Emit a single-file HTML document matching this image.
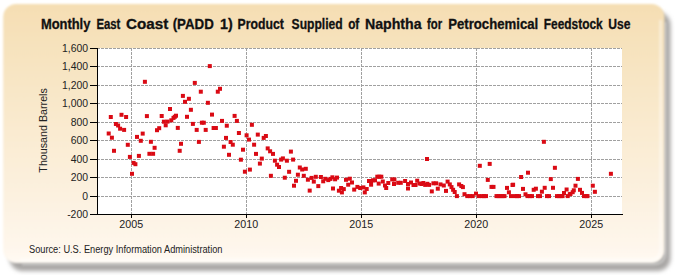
<!DOCTYPE html>
<html><head><meta charset="utf-8">
<style>
html,body{margin:0;padding:0;background:#fff;width:675px;height:275px;overflow:hidden}
svg{display:block}
text{font-family:"Liberation Sans",sans-serif}
</style></head><body>
<svg width="675" height="275" viewBox="0 0 675 275">
<defs>
<linearGradient id="bg" x1="0" y1="0" x2="0" y2="1">
<stop offset="0" stop-color="#F5DEB3"/>
<stop offset="0.93" stop-color="#FEF6EB"/>
<stop offset="1" stop-color="#FFFAF4"/>
</linearGradient>
<filter id="sh" x="-5%" y="-5%" width="115%" height="120%">
<feGaussianBlur stdDeviation="2.2"/>
</filter>
<filter id="pb" x="-2%" y="-2%" width="104%" height="104%"><feGaussianBlur stdDeviation="0.8"/></filter>
</defs>
<rect x="0" y="0" width="675" height="275" fill="#ffffff"/>
<rect x="9.5" y="12" width="661" height="259" rx="13" ry="13" fill="#a8a6a4" filter="url(#sh)"/>
<rect x="3.2" y="4" width="661.3" height="259" rx="13" ry="13" fill="url(#bg)" filter="url(#pb)"/>
<path d="M 660.5 20 L 660.5 249 Q 660.5 259.8 650 259.8 L 20 259.8" fill="none" stroke="#ffffff" stroke-opacity="0.45" stroke-width="2.5" filter="url(#pb)"/>
<path d="M 665.5 22 L 665.5 252 Q 665.5 264.5 652 264.5 L 22 264.5" fill="none" stroke="#ffffff" stroke-opacity="0.35" stroke-width="2" filter="url(#pb)"/>
<rect x="98" y="48" width="524" height="166" fill="#ffffff"/>

<line x1="97" y1="196.5" x2="622" y2="196.5" stroke="#a0a0a0" stroke-width="1" stroke-dasharray="3,1"/>
<line x1="97" y1="177.5" x2="622" y2="177.5" stroke="#a0a0a0" stroke-width="1" stroke-dasharray="3,1"/>
<line x1="97" y1="159.5" x2="622" y2="159.5" stroke="#a0a0a0" stroke-width="1" stroke-dasharray="3,1"/>
<line x1="97" y1="140.5" x2="622" y2="140.5" stroke="#a0a0a0" stroke-width="1" stroke-dasharray="3,1"/>
<line x1="97" y1="122.5" x2="622" y2="122.5" stroke="#a0a0a0" stroke-width="1" stroke-dasharray="3,1"/>
<line x1="97" y1="103.5" x2="622" y2="103.5" stroke="#a0a0a0" stroke-width="1" stroke-dasharray="3,1"/>
<line x1="97" y1="85.5" x2="622" y2="85.5" stroke="#a0a0a0" stroke-width="1" stroke-dasharray="3,1"/>
<line x1="97" y1="66.5" x2="622" y2="66.5" stroke="#a0a0a0" stroke-width="1" stroke-dasharray="3,1"/>
<line x1="97" y1="48.5" x2="622" y2="48.5" stroke="#a0a0a0" stroke-width="1" stroke-dasharray="3,1"/>
<line x1="131.5" y1="48" x2="131.5" y2="214" stroke="#a0a0a0" stroke-width="1" stroke-dasharray="3,1"/>
<line x1="246.5" y1="48" x2="246.5" y2="214" stroke="#a0a0a0" stroke-width="1" stroke-dasharray="3,1"/>
<line x1="361.5" y1="48" x2="361.5" y2="214" stroke="#a0a0a0" stroke-width="1" stroke-dasharray="3,1"/>
<line x1="476.5" y1="48" x2="476.5" y2="214" stroke="#a0a0a0" stroke-width="1" stroke-dasharray="3,1"/>
<line x1="591.5" y1="48" x2="591.5" y2="214" stroke="#a0a0a0" stroke-width="1" stroke-dasharray="3,1"/>
<line x1="97.5" y1="48" x2="97.5" y2="214.5" stroke="#000" stroke-width="1"/>
<line x1="97" y1="214.5" x2="623" y2="214.5" stroke="#000" stroke-width="1"/>
<line x1="90" y1="214.5" x2="97" y2="214.5" stroke="#000" stroke-width="1"/>
<text x="88" y="218.1" font-size="11.5" text-anchor="end" fill="#222" textLength="20.83" lengthAdjust="spacingAndGlyphs">-200</text>
<line x1="90" y1="196.5" x2="97" y2="196.5" stroke="#000" stroke-width="1"/>
<text x="88" y="200.1" font-size="11.5" text-anchor="end" fill="#222" textLength="5.79" lengthAdjust="spacingAndGlyphs">0</text>
<line x1="90" y1="177.5" x2="97" y2="177.5" stroke="#000" stroke-width="1"/>
<text x="88" y="181.1" font-size="11.5" text-anchor="end" fill="#222" textLength="17.36" lengthAdjust="spacingAndGlyphs">200</text>
<line x1="90" y1="159.5" x2="97" y2="159.5" stroke="#000" stroke-width="1"/>
<text x="88" y="163.1" font-size="11.5" text-anchor="end" fill="#222" textLength="17.36" lengthAdjust="spacingAndGlyphs">400</text>
<line x1="90" y1="140.5" x2="97" y2="140.5" stroke="#000" stroke-width="1"/>
<text x="88" y="144.1" font-size="11.5" text-anchor="end" fill="#222" textLength="17.36" lengthAdjust="spacingAndGlyphs">600</text>
<line x1="90" y1="122.5" x2="97" y2="122.5" stroke="#000" stroke-width="1"/>
<text x="88" y="126.1" font-size="11.5" text-anchor="end" fill="#222" textLength="17.36" lengthAdjust="spacingAndGlyphs">800</text>
<line x1="90" y1="103.5" x2="97" y2="103.5" stroke="#000" stroke-width="1"/>
<text x="88" y="107.1" font-size="11.5" text-anchor="end" fill="#222" textLength="26.04" lengthAdjust="spacingAndGlyphs">1,000</text>
<line x1="90" y1="85.5" x2="97" y2="85.5" stroke="#000" stroke-width="1"/>
<text x="88" y="89.1" font-size="11.5" text-anchor="end" fill="#222" textLength="26.04" lengthAdjust="spacingAndGlyphs">1,200</text>
<line x1="90" y1="66.5" x2="97" y2="66.5" stroke="#000" stroke-width="1"/>
<text x="88" y="70.1" font-size="11.5" text-anchor="end" fill="#222" textLength="26.04" lengthAdjust="spacingAndGlyphs">1,400</text>
<line x1="90" y1="48.5" x2="97" y2="48.5" stroke="#000" stroke-width="1"/>
<text x="88" y="52.1" font-size="11.5" text-anchor="end" fill="#222" textLength="26.04" lengthAdjust="spacingAndGlyphs">1,600</text>
<line x1="131.5" y1="214" x2="131.5" y2="218" stroke="#000" stroke-width="1"/>
<text x="131.2" y="227.8" font-size="11.5" text-anchor="middle" fill="#222" textLength="23.8" lengthAdjust="spacingAndGlyphs">2005</text>
<line x1="246.5" y1="214" x2="246.5" y2="218" stroke="#000" stroke-width="1"/>
<text x="246.2" y="227.8" font-size="11.5" text-anchor="middle" fill="#222" textLength="23.8" lengthAdjust="spacingAndGlyphs">2010</text>
<line x1="361.5" y1="214" x2="361.5" y2="218" stroke="#000" stroke-width="1"/>
<text x="361.2" y="227.8" font-size="11.5" text-anchor="middle" fill="#222" textLength="23.8" lengthAdjust="spacingAndGlyphs">2015</text>
<line x1="476.5" y1="214" x2="476.5" y2="218" stroke="#000" stroke-width="1"/>
<text x="476.2" y="227.8" font-size="11.5" text-anchor="middle" fill="#222" textLength="23.8" lengthAdjust="spacingAndGlyphs">2020</text>
<line x1="591.5" y1="214" x2="591.5" y2="218" stroke="#000" stroke-width="1"/>
<text x="591.2" y="227.8" font-size="11.5" text-anchor="middle" fill="#222" textLength="23.8" lengthAdjust="spacingAndGlyphs">2025</text>
<rect x="106.7" y="131.5" width="4" height="4" fill="#DA0A14"/>
<rect x="108.8" y="115.0" width="4" height="4" fill="#DA0A14"/>
<rect x="109.9" y="135.7" width="4" height="4" fill="#DA0A14"/>
<rect x="112.0" y="148.8" width="4" height="4" fill="#DA0A14"/>
<rect x="113.9" y="122.0" width="4" height="4" fill="#DA0A14"/>
<rect x="116.1" y="123.5" width="4" height="4" fill="#DA0A14"/>
<rect x="118.1" y="126.7" width="4" height="4" fill="#DA0A14"/>
<rect x="119.5" y="112.8" width="4" height="4" fill="#DA0A14"/>
<rect x="122.1" y="127.9" width="4" height="4" fill="#DA0A14"/>
<rect x="124.1" y="115.0" width="4" height="4" fill="#DA0A14"/>
<rect x="125.8" y="142.8" width="4" height="4" fill="#DA0A14"/>
<rect x="127.9" y="154.9" width="4" height="4" fill="#DA0A14"/>
<rect x="130.0" y="171.8" width="4" height="4" fill="#DA0A14"/>
<rect x="131.6" y="160.9" width="4" height="4" fill="#DA0A14"/>
<rect x="133.4" y="162.2" width="4" height="4" fill="#DA0A14"/>
<rect x="135.0" y="134.9" width="4" height="4" fill="#DA0A14"/>
<rect x="136.9" y="153.9" width="4" height="4" fill="#DA0A14"/>
<rect x="138.8" y="138.8" width="4" height="4" fill="#DA0A14"/>
<rect x="140.7" y="131.6" width="4" height="4" fill="#DA0A14"/>
<rect x="142.9" y="79.8" width="4" height="4" fill="#DA0A14"/>
<rect x="144.9" y="114.1" width="4" height="4" fill="#DA0A14"/>
<rect x="147.4" y="151.8" width="4" height="4" fill="#DA0A14"/>
<rect x="148.9" y="139.8" width="4" height="4" fill="#DA0A14"/>
<rect x="151.1" y="151.8" width="4" height="4" fill="#DA0A14"/>
<rect x="152.6" y="145.8" width="4" height="4" fill="#DA0A14"/>
<rect x="155.0" y="128.2" width="4" height="4" fill="#DA0A14"/>
<rect x="157.2" y="126.2" width="4" height="4" fill="#DA0A14"/>
<rect x="159.7" y="114.0" width="4" height="4" fill="#DA0A14"/>
<rect x="161.9" y="119.7" width="4" height="4" fill="#DA0A14"/>
<rect x="163.7" y="123.3" width="4" height="4" fill="#DA0A14"/>
<rect x="165.5" y="119.6" width="4" height="4" fill="#DA0A14"/>
<rect x="168.0" y="107.0" width="4" height="4" fill="#DA0A14"/>
<rect x="169.3" y="118.3" width="4" height="4" fill="#DA0A14"/>
<rect x="171.5" y="115.9" width="4" height="4" fill="#DA0A14"/>
<rect x="172.8" y="114.8" width="4" height="4" fill="#DA0A14"/>
<rect x="174.0" y="113.7" width="4" height="4" fill="#DA0A14"/>
<rect x="175.8" y="125.9" width="4" height="4" fill="#DA0A14"/>
<rect x="177.7" y="148.8" width="4" height="4" fill="#DA0A14"/>
<rect x="179.0" y="141.8" width="4" height="4" fill="#DA0A14"/>
<rect x="180.9" y="93.9" width="4" height="4" fill="#DA0A14"/>
<rect x="183.0" y="99.8" width="4" height="4" fill="#DA0A14"/>
<rect x="185.0" y="114.8" width="4" height="4" fill="#DA0A14"/>
<rect x="186.9" y="96.8" width="4" height="4" fill="#DA0A14"/>
<rect x="188.9" y="107.8" width="4" height="4" fill="#DA0A14"/>
<rect x="190.9" y="121.9" width="4" height="4" fill="#DA0A14"/>
<rect x="192.8" y="80.9" width="4" height="4" fill="#DA0A14"/>
<rect x="194.7" y="127.9" width="4" height="4" fill="#DA0A14"/>
<rect x="196.9" y="139.9" width="4" height="4" fill="#DA0A14"/>
<rect x="198.8" y="89.7" width="4" height="4" fill="#DA0A14"/>
<rect x="199.9" y="120.7" width="4" height="4" fill="#DA0A14"/>
<rect x="201.8" y="120.7" width="4" height="4" fill="#DA0A14"/>
<rect x="203.7" y="127.9" width="4" height="4" fill="#DA0A14"/>
<rect x="205.9" y="100.8" width="4" height="4" fill="#DA0A14"/>
<rect x="207.8" y="64.1" width="4" height="4" fill="#DA0A14"/>
<rect x="210.0" y="112.6" width="4" height="4" fill="#DA0A14"/>
<rect x="211.6" y="126.0" width="4" height="4" fill="#DA0A14"/>
<rect x="213.9" y="126.0" width="4" height="4" fill="#DA0A14"/>
<rect x="215.8" y="89.7" width="4" height="4" fill="#DA0A14"/>
<rect x="218.0" y="86.8" width="4" height="4" fill="#DA0A14"/>
<rect x="220.0" y="118.9" width="4" height="4" fill="#DA0A14"/>
<rect x="221.9" y="144.7" width="4" height="4" fill="#DA0A14"/>
<rect x="224.0" y="135.9" width="4" height="4" fill="#DA0A14"/>
<rect x="224.8" y="123.7" width="4" height="4" fill="#DA0A14"/>
<rect x="227.0" y="152.8" width="4" height="4" fill="#DA0A14"/>
<rect x="228.6" y="140.0" width="4" height="4" fill="#DA0A14"/>
<rect x="230.8" y="142.7" width="4" height="4" fill="#DA0A14"/>
<rect x="232.6" y="113.9" width="4" height="4" fill="#DA0A14"/>
<rect x="234.9" y="118.9" width="4" height="4" fill="#DA0A14"/>
<rect x="236.9" y="131.0" width="4" height="4" fill="#DA0A14"/>
<rect x="238.9" y="157.7" width="4" height="4" fill="#DA0A14"/>
<rect x="241.0" y="147.7" width="4" height="4" fill="#DA0A14"/>
<rect x="242.9" y="169.7" width="4" height="4" fill="#DA0A14"/>
<rect x="244.6" y="133.3" width="4" height="4" fill="#DA0A14"/>
<rect x="247.0" y="137.6" width="4" height="4" fill="#DA0A14"/>
<rect x="247.9" y="167.6" width="4" height="4" fill="#DA0A14"/>
<rect x="249.9" y="122.8" width="4" height="4" fill="#DA0A14"/>
<rect x="252.1" y="142.7" width="4" height="4" fill="#DA0A14"/>
<rect x="254.0" y="151.9" width="4" height="4" fill="#DA0A14"/>
<rect x="255.8" y="132.6" width="4" height="4" fill="#DA0A14"/>
<rect x="257.9" y="161.6" width="4" height="4" fill="#DA0A14"/>
<rect x="259.8" y="156.6" width="4" height="4" fill="#DA0A14"/>
<rect x="261.7" y="135.9" width="4" height="4" fill="#DA0A14"/>
<rect x="263.9" y="134.0" width="4" height="4" fill="#DA0A14"/>
<rect x="265.7" y="146.4" width="4" height="4" fill="#DA0A14"/>
<rect x="268.1" y="149.3" width="4" height="4" fill="#DA0A14"/>
<rect x="268.9" y="173.8" width="4" height="4" fill="#DA0A14"/>
<rect x="271.0" y="151.9" width="4" height="4" fill="#DA0A14"/>
<rect x="272.9" y="158.7" width="4" height="4" fill="#DA0A14"/>
<rect x="275.1" y="162.7" width="4" height="4" fill="#DA0A14"/>
<rect x="277.0" y="165.0" width="4" height="4" fill="#DA0A14"/>
<rect x="279.1" y="157.6" width="4" height="4" fill="#DA0A14"/>
<rect x="280.9" y="156.4" width="4" height="4" fill="#DA0A14"/>
<rect x="282.8" y="175.7" width="4" height="4" fill="#DA0A14"/>
<rect x="284.9" y="158.7" width="4" height="4" fill="#DA0A14"/>
<rect x="287.1" y="169.8" width="4" height="4" fill="#DA0A14"/>
<rect x="288.9" y="149.6" width="4" height="4" fill="#DA0A14"/>
<rect x="291.1" y="157.6" width="4" height="4" fill="#DA0A14"/>
<rect x="292.0" y="183.7" width="4" height="4" fill="#DA0A14"/>
<rect x="294.0" y="178.8" width="4" height="4" fill="#DA0A14"/>
<rect x="295.9" y="172.7" width="4" height="4" fill="#DA0A14"/>
<rect x="297.8" y="165.5" width="4" height="4" fill="#DA0A14"/>
<rect x="300.2" y="167.5" width="4" height="4" fill="#DA0A14"/>
<rect x="301.8" y="173.8" width="4" height="4" fill="#DA0A14"/>
<rect x="303.8" y="166.8" width="4" height="4" fill="#DA0A14"/>
<rect x="305.9" y="177.7" width="4" height="4" fill="#DA0A14"/>
<rect x="307.7" y="188.6" width="4" height="4" fill="#DA0A14"/>
<rect x="309.6" y="175.9" width="4" height="4" fill="#DA0A14"/>
<rect x="311.8" y="179.6" width="4" height="4" fill="#DA0A14"/>
<rect x="313.8" y="174.8" width="4" height="4" fill="#DA0A14"/>
<rect x="316.3" y="184.1" width="4" height="4" fill="#DA0A14"/>
<rect x="318.9" y="175.0" width="4" height="4" fill="#DA0A14"/>
<rect x="321.2" y="179.3" width="4" height="4" fill="#DA0A14"/>
<rect x="323.3" y="176.8" width="4" height="4" fill="#DA0A14"/>
<rect x="326.3" y="178.1" width="4" height="4" fill="#DA0A14"/>
<rect x="328.4" y="176.9" width="4" height="4" fill="#DA0A14"/>
<rect x="330.4" y="175.3" width="4" height="4" fill="#DA0A14"/>
<rect x="331.0" y="186.5" width="4" height="4" fill="#DA0A14"/>
<rect x="333.1" y="177.3" width="4" height="4" fill="#DA0A14"/>
<rect x="335.0" y="175.6" width="4" height="4" fill="#DA0A14"/>
<rect x="336.9" y="188.7" width="4" height="4" fill="#DA0A14"/>
<rect x="339.1" y="186.0" width="4" height="4" fill="#DA0A14"/>
<rect x="339.9" y="190.4" width="4" height="4" fill="#DA0A14"/>
<rect x="341.8" y="187.1" width="4" height="4" fill="#DA0A14"/>
<rect x="344.0" y="177.8" width="4" height="4" fill="#DA0A14"/>
<rect x="346.2" y="182.7" width="4" height="4" fill="#DA0A14"/>
<rect x="347.8" y="176.7" width="4" height="4" fill="#DA0A14"/>
<rect x="350.0" y="180.5" width="4" height="4" fill="#DA0A14"/>
<rect x="352.2" y="187.6" width="4" height="4" fill="#DA0A14"/>
<rect x="355.4" y="184.9" width="4" height="4" fill="#DA0A14"/>
<rect x="358.2" y="186.0" width="4" height="4" fill="#DA0A14"/>
<rect x="361.4" y="185.4" width="4" height="4" fill="#DA0A14"/>
<rect x="362.8" y="190.4" width="4" height="4" fill="#DA0A14"/>
<rect x="364.7" y="187.0" width="4" height="4" fill="#DA0A14"/>
<rect x="367.0" y="179.0" width="4" height="4" fill="#DA0A14"/>
<rect x="369.0" y="179.0" width="4" height="4" fill="#DA0A14"/>
<rect x="369.1" y="182.7" width="4" height="4" fill="#DA0A14"/>
<rect x="371.0" y="178.3" width="4" height="4" fill="#DA0A14"/>
<rect x="373.0" y="178.3" width="4" height="4" fill="#DA0A14"/>
<rect x="375.3" y="174.7" width="4" height="4" fill="#DA0A14"/>
<rect x="376.7" y="181.6" width="4" height="4" fill="#DA0A14"/>
<rect x="377.3" y="174.7" width="4" height="4" fill="#DA0A14"/>
<rect x="379.3" y="174.7" width="4" height="4" fill="#DA0A14"/>
<rect x="380.8" y="179.5" width="4" height="4" fill="#DA0A14"/>
<rect x="383.0" y="183.5" width="4" height="4" fill="#DA0A14"/>
<rect x="384.2" y="186.0" width="4" height="4" fill="#DA0A14"/>
<rect x="386.3" y="181.0" width="4" height="4" fill="#DA0A14"/>
<rect x="390.2" y="177.4" width="4" height="4" fill="#DA0A14"/>
<rect x="392.0" y="182.0" width="4" height="4" fill="#DA0A14"/>
<rect x="392.4" y="177.5" width="4" height="4" fill="#DA0A14"/>
<rect x="396.2" y="180.8" width="4" height="4" fill="#DA0A14"/>
<rect x="398.8" y="180.8" width="4" height="4" fill="#DA0A14"/>
<rect x="403.1" y="179.0" width="4" height="4" fill="#DA0A14"/>
<rect x="406.0" y="182.0" width="4" height="4" fill="#DA0A14"/>
<rect x="406.0" y="186.5" width="4" height="4" fill="#DA0A14"/>
<rect x="409.0" y="180.5" width="4" height="4" fill="#DA0A14"/>
<rect x="411.5" y="183.0" width="4" height="4" fill="#DA0A14"/>
<rect x="413.5" y="183.0" width="4" height="4" fill="#DA0A14"/>
<rect x="415.2" y="178.7" width="4" height="4" fill="#DA0A14"/>
<rect x="417.5" y="181.5" width="4" height="4" fill="#DA0A14"/>
<rect x="419.5" y="182.0" width="4" height="4" fill="#DA0A14"/>
<rect x="421.3" y="181.0" width="4" height="4" fill="#DA0A14"/>
<rect x="423.2" y="182.9" width="4" height="4" fill="#DA0A14"/>
<rect x="425.0" y="157.0" width="4" height="4" fill="#DA0A14"/>
<rect x="425.4" y="181.8" width="4" height="4" fill="#DA0A14"/>
<rect x="427.1" y="182.9" width="4" height="4" fill="#DA0A14"/>
<rect x="429.8" y="189.4" width="4" height="4" fill="#DA0A14"/>
<rect x="431.4" y="181.3" width="4" height="4" fill="#DA0A14"/>
<rect x="434.2" y="181.3" width="4" height="4" fill="#DA0A14"/>
<rect x="435.8" y="186.7" width="4" height="4" fill="#DA0A14"/>
<rect x="438.5" y="182.4" width="4" height="4" fill="#DA0A14"/>
<rect x="441.8" y="183.5" width="4" height="4" fill="#DA0A14"/>
<rect x="444.0" y="188.9" width="4" height="4" fill="#DA0A14"/>
<rect x="445.6" y="179.6" width="4" height="4" fill="#DA0A14"/>
<rect x="447.8" y="182.4" width="4" height="4" fill="#DA0A14"/>
<rect x="449.5" y="185.1" width="4" height="4" fill="#DA0A14"/>
<rect x="451.1" y="187.8" width="4" height="4" fill="#DA0A14"/>
<rect x="452.7" y="190.0" width="4" height="4" fill="#DA0A14"/>
<rect x="454.9" y="194.1" width="4" height="4" fill="#DA0A14"/>
<rect x="457.1" y="182.4" width="4" height="4" fill="#DA0A14"/>
<rect x="459.3" y="184.0" width="4" height="4" fill="#DA0A14"/>
<rect x="460.9" y="185.1" width="4" height="4" fill="#DA0A14"/>
<rect x="462.5" y="192.2" width="4" height="4" fill="#DA0A14"/>
<rect x="465.3" y="194.1" width="4" height="4" fill="#DA0A14"/>
<rect x="468.0" y="194.1" width="4" height="4" fill="#DA0A14"/>
<rect x="470.7" y="194.1" width="4" height="4" fill="#DA0A14"/>
<rect x="474.0" y="191.6" width="4" height="4" fill="#DA0A14"/>
<rect x="476.7" y="194.1" width="4" height="4" fill="#DA0A14"/>
<rect x="477.8" y="163.8" width="4" height="4" fill="#DA0A14"/>
<rect x="480.0" y="194.1" width="4" height="4" fill="#DA0A14"/>
<rect x="482.0" y="194.1" width="4" height="4" fill="#DA0A14"/>
<rect x="484.0" y="194.1" width="4" height="4" fill="#DA0A14"/>
<rect x="485.8" y="177.9" width="4" height="4" fill="#DA0A14"/>
<rect x="487.7" y="161.9" width="4" height="4" fill="#DA0A14"/>
<rect x="489.5" y="184.9" width="4" height="4" fill="#DA0A14"/>
<rect x="491.5" y="184.9" width="4" height="4" fill="#DA0A14"/>
<rect x="494.5" y="194.1" width="4" height="4" fill="#DA0A14"/>
<rect x="496.5" y="194.1" width="4" height="4" fill="#DA0A14"/>
<rect x="498.5" y="194.1" width="4" height="4" fill="#DA0A14"/>
<rect x="500.5" y="194.1" width="4" height="4" fill="#DA0A14"/>
<rect x="502.5" y="194.1" width="4" height="4" fill="#DA0A14"/>
<rect x="505.0" y="185.9" width="4" height="4" fill="#DA0A14"/>
<rect x="506.9" y="190.3" width="4" height="4" fill="#DA0A14"/>
<rect x="509.0" y="194.1" width="4" height="4" fill="#DA0A14"/>
<rect x="510.5" y="183.0" width="4" height="4" fill="#DA0A14"/>
<rect x="511.1" y="182.7" width="4" height="4" fill="#DA0A14"/>
<rect x="513.0" y="194.1" width="4" height="4" fill="#DA0A14"/>
<rect x="515.0" y="194.1" width="4" height="4" fill="#DA0A14"/>
<rect x="517.0" y="194.1" width="4" height="4" fill="#DA0A14"/>
<rect x="519.1" y="175.0" width="4" height="4" fill="#DA0A14"/>
<rect x="521.0" y="186.9" width="4" height="4" fill="#DA0A14"/>
<rect x="523.5" y="192.3" width="4" height="4" fill="#DA0A14"/>
<rect x="525.5" y="194.1" width="4" height="4" fill="#DA0A14"/>
<rect x="526.0" y="170.7" width="4" height="4" fill="#DA0A14"/>
<rect x="528.0" y="194.1" width="4" height="4" fill="#DA0A14"/>
<rect x="530.0" y="194.1" width="4" height="4" fill="#DA0A14"/>
<rect x="531.7" y="187.8" width="4" height="4" fill="#DA0A14"/>
<rect x="533.9" y="186.7" width="4" height="4" fill="#DA0A14"/>
<rect x="536.0" y="194.1" width="4" height="4" fill="#DA0A14"/>
<rect x="538.0" y="194.1" width="4" height="4" fill="#DA0A14"/>
<rect x="539.9" y="189.7" width="4" height="4" fill="#DA0A14"/>
<rect x="541.9" y="139.8" width="4" height="4" fill="#DA0A14"/>
<rect x="542.7" y="185.8" width="4" height="4" fill="#DA0A14"/>
<rect x="545.0" y="194.1" width="4" height="4" fill="#DA0A14"/>
<rect x="547.0" y="194.1" width="4" height="4" fill="#DA0A14"/>
<rect x="548.8" y="177.1" width="4" height="4" fill="#DA0A14"/>
<rect x="551.0" y="185.8" width="4" height="4" fill="#DA0A14"/>
<rect x="552.9" y="165.8" width="4" height="4" fill="#DA0A14"/>
<rect x="555.0" y="194.1" width="4" height="4" fill="#DA0A14"/>
<rect x="557.0" y="194.1" width="4" height="4" fill="#DA0A14"/>
<rect x="559.0" y="194.1" width="4" height="4" fill="#DA0A14"/>
<rect x="560.6" y="194.1" width="4" height="4" fill="#DA0A14"/>
<rect x="562.0" y="191.0" width="4" height="4" fill="#DA0A14"/>
<rect x="564.6" y="187.5" width="4" height="4" fill="#DA0A14"/>
<rect x="565.7" y="194.1" width="4" height="4" fill="#DA0A14"/>
<rect x="567.8" y="192.2" width="4" height="4" fill="#DA0A14"/>
<rect x="568.5" y="191.9" width="4" height="4" fill="#DA0A14"/>
<rect x="570.7" y="190.2" width="4" height="4" fill="#DA0A14"/>
<rect x="571.8" y="188.3" width="4" height="4" fill="#DA0A14"/>
<rect x="573.5" y="183.7" width="4" height="4" fill="#DA0A14"/>
<rect x="575.9" y="176.9" width="4" height="4" fill="#DA0A14"/>
<rect x="578.0" y="187.8" width="4" height="4" fill="#DA0A14"/>
<rect x="580.0" y="190.9" width="4" height="4" fill="#DA0A14"/>
<rect x="582.0" y="194.1" width="4" height="4" fill="#DA0A14"/>
<rect x="584.4" y="194.1" width="4" height="4" fill="#DA0A14"/>
<rect x="585.5" y="194.1" width="4" height="4" fill="#DA0A14"/>
<rect x="590.8" y="183.7" width="4" height="4" fill="#DA0A14"/>
<rect x="592.9" y="189.8" width="4" height="4" fill="#DA0A14"/>
<rect x="608.9" y="171.8" width="4" height="4" fill="#DA0A14"/>
<text x="40.90" y="29" font-size="14" font-weight="bold" fill="#111" stroke="#111" stroke-width="0.3" textLength="49.50" lengthAdjust="spacingAndGlyphs">Monthly</text>
<text x="96.40" y="29" font-size="14" font-weight="bold" fill="#111" stroke="#111" stroke-width="0.3" textLength="24.00" lengthAdjust="spacingAndGlyphs">East</text>
<text x="126.00" y="29" font-size="14" font-weight="bold" fill="#111" stroke="#111" stroke-width="0.3" textLength="42.20" lengthAdjust="spacingAndGlyphs">Coast</text>
<text x="172.70" y="29" font-size="14" font-weight="bold" fill="#111" stroke="#111" stroke-width="0.3" textLength="41.10" lengthAdjust="spacingAndGlyphs">(PADD</text>
<text x="220.00" y="29" font-size="14" font-weight="bold" fill="#111" stroke="#111" stroke-width="0.3" textLength="12.70" lengthAdjust="spacingAndGlyphs">1)</text>
<text x="237.60" y="29" font-size="14" font-weight="bold" fill="#111" stroke="#111" stroke-width="0.3" textLength="46.20" lengthAdjust="spacingAndGlyphs">Product</text>
<text x="291.60" y="29" font-size="14" font-weight="bold" fill="#111" stroke="#111" stroke-width="0.3" textLength="51.10" lengthAdjust="spacingAndGlyphs">Supplied</text>
<text x="348.20" y="29" font-size="14" font-weight="bold" fill="#111" stroke="#111" stroke-width="0.3" textLength="11.10" lengthAdjust="spacingAndGlyphs">of</text>
<text x="364.90" y="29" font-size="14" font-weight="bold" fill="#111" stroke="#111" stroke-width="0.3" textLength="56.70" lengthAdjust="spacingAndGlyphs">Naphtha</text>
<text x="427.10" y="29" font-size="14" font-weight="bold" fill="#111" stroke="#111" stroke-width="0.3" textLength="15.10" lengthAdjust="spacingAndGlyphs">for</text>
<text x="448.20" y="29" font-size="14" font-weight="bold" fill="#111" stroke="#111" stroke-width="0.3" textLength="90.00" lengthAdjust="spacingAndGlyphs">Petrochemical</text>
<text x="543.80" y="29" font-size="14" font-weight="bold" fill="#111" stroke="#111" stroke-width="0.3" textLength="58.90" lengthAdjust="spacingAndGlyphs">Feedstock</text>
<text x="608.20" y="29" font-size="14" font-weight="bold" fill="#111" stroke="#111" stroke-width="0.3" textLength="22.20" lengthAdjust="spacingAndGlyphs">Use</text>
<text transform="translate(47.3,130.4) rotate(-90)" font-size="11.5" text-anchor="middle" fill="#222" textLength="84.5" lengthAdjust="spacingAndGlyphs">Thousand Barrels</text>
<text x="29" y="253" font-size="10" fill="#222" textLength="193.5" lengthAdjust="spacingAndGlyphs">Source: U.S. Energy Information Administration</text>
</svg>
</body></html>
